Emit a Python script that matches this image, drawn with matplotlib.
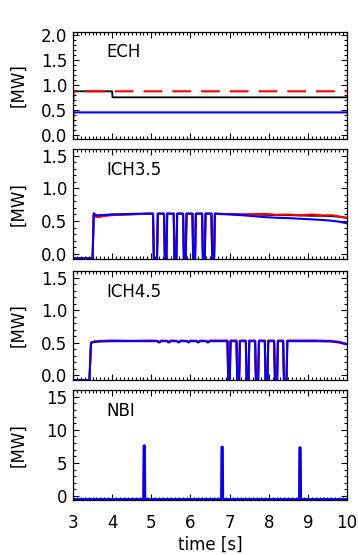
import numpy as np
import matplotlib
matplotlib.use('Agg')
import matplotlib.pyplot as plt
from matplotlib.ticker import MultipleLocator

# ECH power
ech_time = [3.0, 3.01, 4.0, 4.01, 10.0]
ech_set = [0.55, 0.87, 0.87, 0.87, 0.87]
ech_meas = [0.55, 0.87, 0.87, 0.75, 0.75]
ech_net = [0.15, 0.45, 0.45, 0.45, 0.45]

# ICH 3.5 (modulated 5.05 - 6.6 s)
ich35_time = [3.0, 3.50, 3.53, 3.56, 3.62, 3.70, 3.85, 4.0, 4.3, 4.6, 4.9,
              5.045, 5.065, 5.147, 5.167, 5.326, 5.346, 5.386, 5.406, 5.573, 5.593,
              5.641, 5.661, 5.812, 5.832, 5.880, 5.900, 6.051, 6.071, 6.119, 6.139,
              6.298, 6.318, 6.366, 6.386, 6.537, 6.557, 6.605, 6.625,
              6.8, 7.0, 7.3, 7.6, 7.9, 8.2, 8.5, 8.8, 9.1, 9.4, 9.6, 9.8, 10.0]
ich35_black = [-0.07, -0.07, 0.60, 0.59, 0.58, 0.585, 0.59, 0.60, 0.60, 0.605, 0.61,
               0.61, -0.07, -0.07, 0.61, 0.61, -0.07, -0.07, 0.61, 0.61, -0.07,
               -0.07, 0.61, 0.61, -0.07, -0.07, 0.61, 0.61, -0.07, -0.07, 0.61,
               0.61, -0.07, -0.07, 0.61, 0.61, -0.07, -0.07, 0.61,
               0.605, 0.605, 0.60, 0.60, 0.595, 0.59, 0.59, 0.585, 0.58, 0.58, 0.575, 0.565, 0.55]
ich35_red = [-0.07, -0.07, 0.59, 0.57, 0.56, 0.565, 0.58, 0.59, 0.60, 0.605, 0.61,
             0.61, -0.07, -0.07, 0.61, 0.61, -0.07, -0.07, 0.61, 0.61, -0.07,
             -0.07, 0.61, 0.61, -0.07, -0.07, 0.61, 0.61, -0.07, -0.07, 0.61,
             0.61, -0.07, -0.07, 0.61, 0.61, -0.07, -0.07, 0.61,
             0.605, 0.61, 0.60, 0.605, 0.61, 0.595, 0.60, 0.59, 0.60, 0.585, 0.59, 0.57, 0.545]
ich35_blue = [-0.07, -0.07, 0.62, 0.60, 0.585, 0.59, 0.595, 0.60, 0.605, 0.61, 0.615,
              0.615, -0.07, -0.07, 0.615, 0.615, -0.07, -0.07, 0.615, 0.615, -0.07,
              -0.07, 0.615, 0.615, -0.07, -0.07, 0.615, 0.615, -0.07, -0.07, 0.615,
              0.615, -0.07, -0.07, 0.615, 0.615, -0.07, -0.07, 0.615,
              0.61, 0.60, 0.59, 0.575, 0.56, 0.55, 0.545, 0.535, 0.525, 0.515, 0.505, 0.49, 0.465]

# ICH 4.5 (modulated 6.95 - 8.47 s)
ich45_time = [3.0, 3.42, 3.46, 3.55, 3.7, 4.0, 4.5, 5.0,
              5.15, 5.20, 5.25, 5.40, 5.45, 5.50, 5.65, 5.70, 5.75, 5.90, 5.95, 6.00,
              6.15, 6.20, 6.25, 6.40, 6.45, 6.50, 6.8,
              6.946, 6.966, 7.005, 7.025, 7.176, 7.196, 7.244, 7.264, 7.415, 7.435,
              7.483, 7.503, 7.653, 7.673, 7.730, 7.750, 7.900, 7.920, 7.968, 7.988,
              8.139, 8.159, 8.215, 8.235, 8.369, 8.389, 8.455, 8.475,
              8.8, 9.2, 9.6, 9.8, 10.0]
ich45_black = [-0.07, -0.07, 0.50, 0.52, 0.525, 0.53, 0.53, 0.53,
               0.53, 0.51, 0.53, 0.53, 0.51, 0.53, 0.53, 0.51, 0.53, 0.53, 0.51, 0.53,
               0.53, 0.51, 0.53, 0.53, 0.51, 0.53, 0.53,
               0.53, -0.07, -0.07, 0.53, 0.53, -0.07, -0.07, 0.53, 0.53, -0.07,
               -0.07, 0.53, 0.53, -0.07, -0.07, 0.53, 0.53, -0.07, -0.07, 0.53,
               0.53, -0.07, -0.07, 0.53, 0.53, -0.07, -0.07, 0.53,
               0.53, 0.53, 0.525, 0.51, 0.48]
ich45_red = [-0.07, -0.07, 0.50, 0.52, 0.53, 0.535, 0.53, 0.535,
             0.53, 0.51, 0.535, 0.53, 0.51, 0.535, 0.53, 0.51, 0.535, 0.53, 0.51, 0.535,
             0.53, 0.51, 0.535, 0.53, 0.51, 0.535, 0.535,
             0.535, -0.07, -0.07, 0.535, 0.535, -0.07, -0.07, 0.535, 0.535, -0.07,
             -0.07, 0.535, 0.535, -0.07, -0.07, 0.535, 0.535, -0.07, -0.07, 0.535,
             0.535, -0.07, -0.07, 0.535, 0.535, -0.07, -0.07, 0.535,
             0.535, 0.535, 0.53, 0.515, 0.48]
ich45_blue = [-0.07, -0.07, 0.50, 0.515, 0.52, 0.525, 0.525, 0.525,
              0.525, 0.505, 0.525, 0.525, 0.505, 0.525, 0.525, 0.505, 0.525, 0.525, 0.505, 0.525,
              0.525, 0.505, 0.525, 0.525, 0.505, 0.525, 0.525,
              0.525, -0.07, -0.07, 0.525, 0.525, -0.07, -0.07, 0.525, 0.525, -0.07,
              -0.07, 0.525, 0.525, -0.07, -0.07, 0.525, 0.525, -0.07, -0.07, 0.525,
              0.525, -0.07, -0.07, 0.525, 0.525, -0.07, -0.07, 0.525,
              0.525, 0.525, 0.52, 0.505, 0.475]

# NBI blips
nbi_time = [3.0, 4.80, 4.81, 4.83, 4.84, 6.79, 6.80, 6.82, 6.83, 8.78, 8.79, 8.81, 8.82, 10.0]
nbi_power = [-0.5, -0.5, 7.6, 7.6, -0.5, -0.5, 7.4, 7.4, -0.5, -0.5, 7.3, 7.3, -0.5, -0.5]

panel_names = ['ECH', 'ICH3.5', 'ICH4.5', 'NBI']
x_ticks = [3, 4, 5, 6, 7, 8, 9, 10]

plt.rcParams['font.family'] = 'DejaVu Sans'
plt.rcParams['font.size'] = 12


def style_axis(ax, ylim, major, minor):
    ax.set_xlim(3, 10)
    ax.set_ylim(*ylim)
    ax.set_xticks(x_ticks)
    ax.xaxis.set_minor_locator(MultipleLocator(0.1))
    ax.yaxis.set_major_locator(MultipleLocator(major))
    ax.yaxis.set_minor_locator(MultipleLocator(minor))
    ax.tick_params(which='both', direction='in', top=True, right=True, width=0.8)
    ax.tick_params(which='major', length=4, pad=4)
    ax.tick_params(which='minor', length=2)
    ax.tick_params(axis='x', pad=10)
    for s in ax.spines.values():
        s.set_linewidth(0.9)
    ax.set_ylabel('[MW]')
    ax.yaxis.set_label_coords(-0.165, 0.5)


fig = plt.figure(figsize=(3.58, 5.55), dpi=100)
left, width = 0.2039, 0.7654
ax1 = fig.add_axes([left, 0.7495, width, 0.1928])
ax2 = fig.add_axes([left, 0.5333, width, 0.1982])
ax3 = fig.add_axes([left, 0.3153, width, 0.1964])
ax4 = fig.add_axes([left, 0.0991, width, 0.1982])

ax1.plot(ech_time, ech_meas, color='black', lw=1.3)
ax1.plot(ech_time, ech_set, color='red', lw=1.5, dashes=(9.0, 4.8))
ax1.plot(ech_time, ech_net, color='blue', lw=1.5)
style_axis(ax1, (-0.08, 2.05), 0.5, 0.1)
ax1.yaxis.set_major_formatter(plt.FormatStrFormatter('%.1f'))

ax2.plot(ich35_time, ich35_black, color='black', lw=1.3)
ax2.plot(ich35_time, ich35_red, color='red', lw=1.5)
ax2.plot(ich35_time, ich35_blue, color='blue', lw=1.5)
style_axis(ax2, (-0.08, 1.6), 0.5, 0.1)
ax2.yaxis.set_major_formatter(plt.FormatStrFormatter('%.1f'))

ax3.plot(ich45_time, ich45_black, color='black', lw=1.3)
ax3.plot(ich45_time, ich45_red, color='red', lw=1.5)
ax3.plot(ich45_time, ich45_blue, color='blue', lw=1.5)
style_axis(ax3, (-0.07, 1.6), 0.5, 0.1)
ax3.yaxis.set_major_formatter(plt.FormatStrFormatter('%.1f'))

ax4.plot(nbi_time, nbi_power, color='red', lw=1.2)
ax4.plot(nbi_time, nbi_power, color='blue', lw=1.8)
style_axis(ax4, (-0.6, 16.0), 5, 1)
ax4.set_xlabel('time [s]', labelpad=3)

for ax, name in zip([ax1, ax2, ax3, ax4], panel_names):
    ax.text(0.12, 0.81, name, transform=ax.transAxes, va='center', ha='left')
    if ax is not ax4:
        ax.tick_params(axis='x', labelbottom=False)

fig.savefig('out.png', dpi=100)
